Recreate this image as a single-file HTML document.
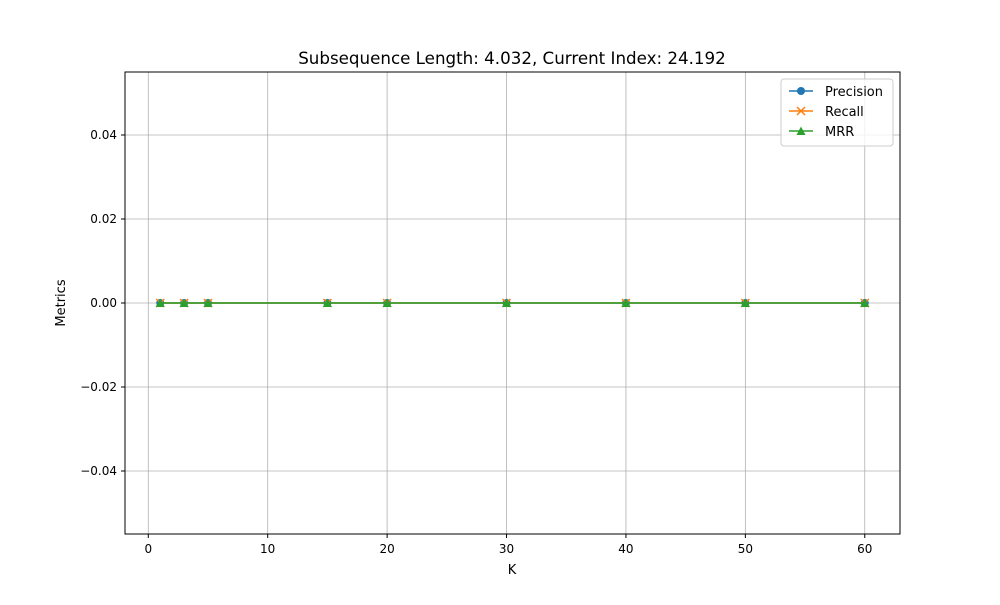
<!DOCTYPE html>
<html><head><meta charset="utf-8"><style>
body{margin:0;background:#fff;font-family:"Liberation Sans","DejaVu Sans",sans-serif;}
svg text{font-family:"DejaVu Sans","Liberation Sans",sans-serif;}
</style></head><body>
<svg id="chart" width="1000" height="600" xmlns="http://www.w3.org/2000/svg">
<rect width="1000" height="600" fill="#fff"/>
<text x="512" y="64" text-anchor="middle" font-size="16.7">Subsequence Length: 4.032, Current Index: 24.192</text>
<g id="grid"></g>
<g id="series"></g>
<rect x="125" y="72" width="775" height="462" fill="none" stroke="#000" stroke-width="1"/>
<g id="ticks"></g>
<text x="512" y="574" text-anchor="middle" font-size="13">K</text>
<text transform="translate(65,303) rotate(-90)" text-anchor="middle" font-size="13">Metrics</text>
<g>
<rect x="781" y="79" width="112" height="67" fill="#fff" fill-opacity="0.8" stroke="#ccc" rx="3"/>
<g><line x1="789" y1="91" x2="813" y2="91" stroke="#1f77b4" stroke-width="1.5"/><circle cx="801" cy="91" r="4" fill="#1f77b4"/><text x="825" y="96" font-size="13">Precision</text></g>
<g><line x1="789" y1="111" x2="813" y2="111" stroke="#ff7f0e" stroke-width="1.5"/><path d="M797 107 L805 115 M805 107 L797 115" stroke="#ff7f0e" stroke-width="1.5"/><text x="825" y="116" font-size="13">Recall</text></g>
<g><line x1="789" y1="131" x2="813" y2="131" stroke="#2ca02c" stroke-width="1.5"/><path d="M801 126.5 L805.5 135 L796.5 135 Z" fill="#2ca02c"/><text x="825" y="136" font-size="13">MRR</text></g>
</g>
</svg>
<script>
const kValues=[1,3,5,15,20,30,40,50,60];
const precision=[0,0,0,0,0,0,0,0,0];
const recall=[0,0,0,0,0,0,0,0,0];
const mrr=[0,0,0,0,0,0,0,0,0];
const xTicks=[0,10,20,30,40,50,60];
const yTicks=[-0.04,-0.02,0,0.02,0.04];
const NS="http://www.w3.org/2000/svg";
const L=125,R=900,T=72,B=534;
const xMin=-1.95,xMax=62.95,yMin=-0.055,yMax=0.055;
const xs=v=>L+(v-xMin)/(xMax-xMin)*(R-L);
const ys=v=>B-(v-yMin)/(yMax-yMin)*(B-T);
function mk(tag,attrs,parent){const e=document.createElementNS(NS,tag);for(const k in attrs)e.setAttribute(k,attrs[k]);parent.appendChild(e);return e;}
const grid=document.getElementById('grid'),ticks=document.getElementById('ticks'),ser=document.getElementById('series');
xTicks.forEach(t=>{const x=xs(t);
 const g=mk('line',{x1:x,x2:x,y1:T,y2:B,stroke:'#b0b0b0','stroke-width':0.8},grid);
 
 
 mk('line',{x1:x,x2:x,y1:B,y2:B+4,stroke:'#000'},ticks);
 const tx=mk('text',{x:x,y:B+19,'text-anchor':'middle','font-size':12},ticks);tx.textContent=t;
 
 });
yTicks.forEach(t=>{const y=ys(t);
 const g=mk('line',{x1:L,x2:R,y1:y,y2:y,stroke:'#b0b0b0','stroke-width':0.8},grid);
 
 
 mk('line',{x1:L-4,x2:L,y1:y,y2:y,stroke:'#000'},ticks);
 const tx=mk('text',{x:L-8,y:y+4,'text-anchor':'end','font-size':12},ticks);tx.textContent=t===0?'0.00':(t<0?'\u2212':'')+Math.abs(t).toFixed(2);
 
 });
function series(vals,color,marker,name){
 const g=mk('g',{},ser);
 
 
 mk('polyline',{points:kValues.map((k,i)=>xs(k)+','+ys(vals[i])).join(' '),fill:'none',stroke:color,'stroke-width':1.5},g);
 kValues.forEach((k,i)=>{const x=xs(k),y=ys(vals[i]);let m;
  if(marker==='o')m=mk('circle',{cx:x,cy:y,r:4,fill:color},g);
  else if(marker==='x')m=mk('path',{d:`M${x-4} ${y-4}L${x+4} ${y+4}M${x+4} ${y-4}L${x-4} ${y+4}`,stroke:color,'stroke-width':1.5},g);
  else m=mk('path',{d:`M${x} ${y-4.5}L${x+4.5} ${y+4}L${x-4.5} ${y+4}Z`,fill:color},g);
  
  });
}
series(precision,'#1f77b4','o','precision');
series(recall,'#ff7f0e','x','recall');
series(mrr,'#2ca02c','^','mrr');
</script>
</body></html>
